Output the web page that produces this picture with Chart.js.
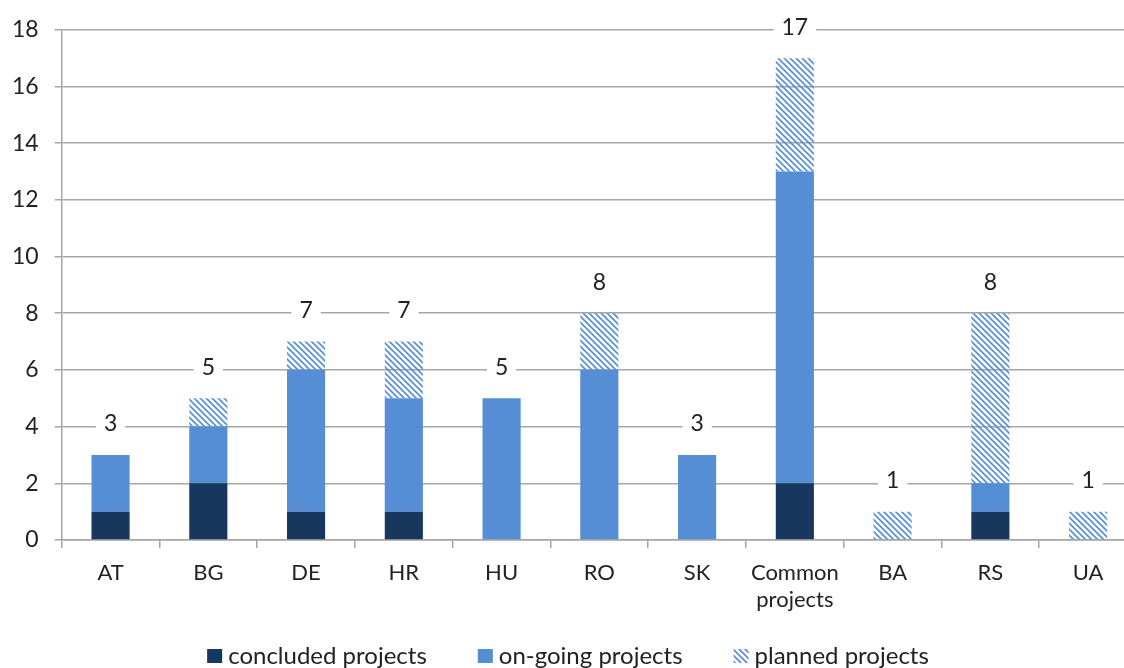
<!DOCTYPE html>
<html>
<head>
<meta charset="utf-8">
<script src="https://cdn.jsdelivr.net/npm/chart.js@4.4.0/dist/chart.umd.min.js"></script>
<style>
  html, body { margin: 0; padding: 0; background: #fff; overflow: hidden; }
  #wrap { width: 1142px; height: 668px; position: relative; }
</style>
</head>
<body>
<div id="wrap"><canvas id="chart1"></canvas></div>
<script>
var categories = ['AT', 'BG', 'DE', 'HR', 'HU', 'RO', 'SK', ['Common', 'projects'], 'BA', 'RS', 'UA'];
var concluded = [1, 2, 1, 1, 0, 0, 0, 2, 0, 1, 0];
var ongoing   = [2, 2, 5, 4, 5, 6, 3, 11, 0, 1, 0];
var planned   = [0, 1, 1, 2, 0, 2, 0, 4, 1, 6, 1];
var seriesNames = ['concluded projects', 'on-going projects', 'planned projects'];
var yTicks = [0, 2, 4, 6, 8, 10, 12, 14, 16, 18];

var FONT = 'Lato, "Open Sans", sans-serif';
var TEXT = '#222222';

function makeHatch(color) {
    var c = document.createElement('canvas');
    c.width = 6; c.height = 6;
    var g = c.getContext('2d');
    g.strokeStyle = color;
    g.lineWidth = 1.6;
    g.beginPath();
    g.moveTo(0, 0); g.lineTo(6, 6);
    g.moveTo(-3, 3); g.lineTo(3, 9);
    g.moveTo(3, -3); g.lineTo(9, 3);
    g.stroke();
    return g.createPattern(c, 'repeat');
}

// total labels with a white box over the gridlines
var totalLabels = {
    id: 'totalLabels',
    afterDatasetsDraw: function(chart) {
        var ctx = chart.ctx;
        var y = chart.scales.y;
        var meta = chart.getDatasetMeta(2);
        ctx.save();
        ctx.font = '23px ' + FONT;
        ctx.textAlign = 'center';
        ctx.textBaseline = 'middle';
        categories.forEach(function(c, i) {
            var total = concluded[i] + ongoing[i] + planned[i];
            var x = meta.data[i].x;
            var py = y.getPixelForValue(total) - 32;
            var txt = String(total);
            var w = ctx.measureText(txt).width + 16;
            ctx.fillStyle = '#ffffff';
            ctx.fillRect(x - w / 2, py - 13, w, 26);
            ctx.fillStyle = TEXT;
            ctx.fillText(txt, x, py + 1);
        });
        ctx.restore();
    }
};

// legend drawn at the bottom, with the wide gaps of the original
var bottomLegend = {
    id: 'bottomLegend',
    afterDraw: function(chart) {
        var ctx = chart.ctx;
        var boxW = 15, boxH = 14, textGap = 6, itemGap = 51;
        ctx.save();
        ctx.font = '24px ' + FONT;
        ctx.textBaseline = 'middle';
        var widths = seriesNames.map(function(n) { return boxW + textGap + ctx.measureText(n).width; });
        var total = widths.reduce(function(a, b) { return a + b; }, 0) + itemGap * (widths.length - 1);
        var x = 568 - total / 2;
        var cy = 656;
        chart.data.datasets.forEach(function(ds, i) {
            ctx.fillStyle = ds.backgroundColor;
            ctx.fillRect(x, cy - boxH / 2, boxW, boxH);
            ctx.fillStyle = TEXT;
            ctx.fillText(seriesNames[i], x + boxW + textGap, cy);
            x += widths[i] + itemGap;
        });
        ctx.restore();
    }
};

document.addEventListener('DOMContentLoaded', function() {
    var ctx1 = document.getElementById('chart1').getContext('2d');
    var hatch = makeHatch('#558ED5');

    var chart1 = new Chart(ctx1, {
        type: 'bar',
        data: {
            labels: categories,
            datasets: [{
                label: seriesNames[0],
                data: concluded,
                backgroundColor: '#17375E',
                borderWidth: 0
            }, {
                label: seriesNames[1],
                data: ongoing,
                backgroundColor: '#558ED5',
                borderWidth: 0
            }, {
                label: seriesNames[2],
                data: planned,
                backgroundColor: hatch,
                borderWidth: 0
            }]
        },
        options: {
            responsive: true,
            maintainAspectRatio: false,
            animation: false,
            datasets: {
                bar: { barPercentage: 0.39, categoryPercentage: 1.0 }
            },
            layout: { padding: { left: -4, right: 5, top: 14, bottom: 43 } },
            plugins: {
                tooltip: { enabled: false },
                legend: { display: false }
            },
            scales: {
                x: {
                    stacked: true,
                    grid: {
                        offset: true,
                        drawOnChartArea: false,
                        drawTicks: true,
                        tickLength: 8,
                        color: '#A6A6A6',
                        lineWidth: 1.5
                    },
                    border: { color: '#A6A6A6', width: 1.5 },
                    ticks: {
                        font: { family: FONT, size: 22, lineHeight: 1.25 },
                        color: TEXT,
                        padding: 11,
                        maxRotation: 0,
                        autoSkip: false
                    }
                },
                y: {
                    stacked: true,
                    min: 0,
                    max: 18,
                    afterBuildTicks: function(axis) {
                        axis.ticks = yTicks.map(function(v) { return { value: v }; });
                    },
                    grid: {
                        color: '#A6A6A6',
                        lineWidth: 1.5,
                        tickLength: 7
                    },
                    border: { color: '#A6A6A6', width: 1.5 },
                    ticks: {
                        font: { family: FONT, size: 23 },
                        color: TEXT,
                        padding: 16
                    }
                }
            }
        },
        plugins: [totalLabels, bottomLegend]
    });
});
</script>
</body>
</html>
